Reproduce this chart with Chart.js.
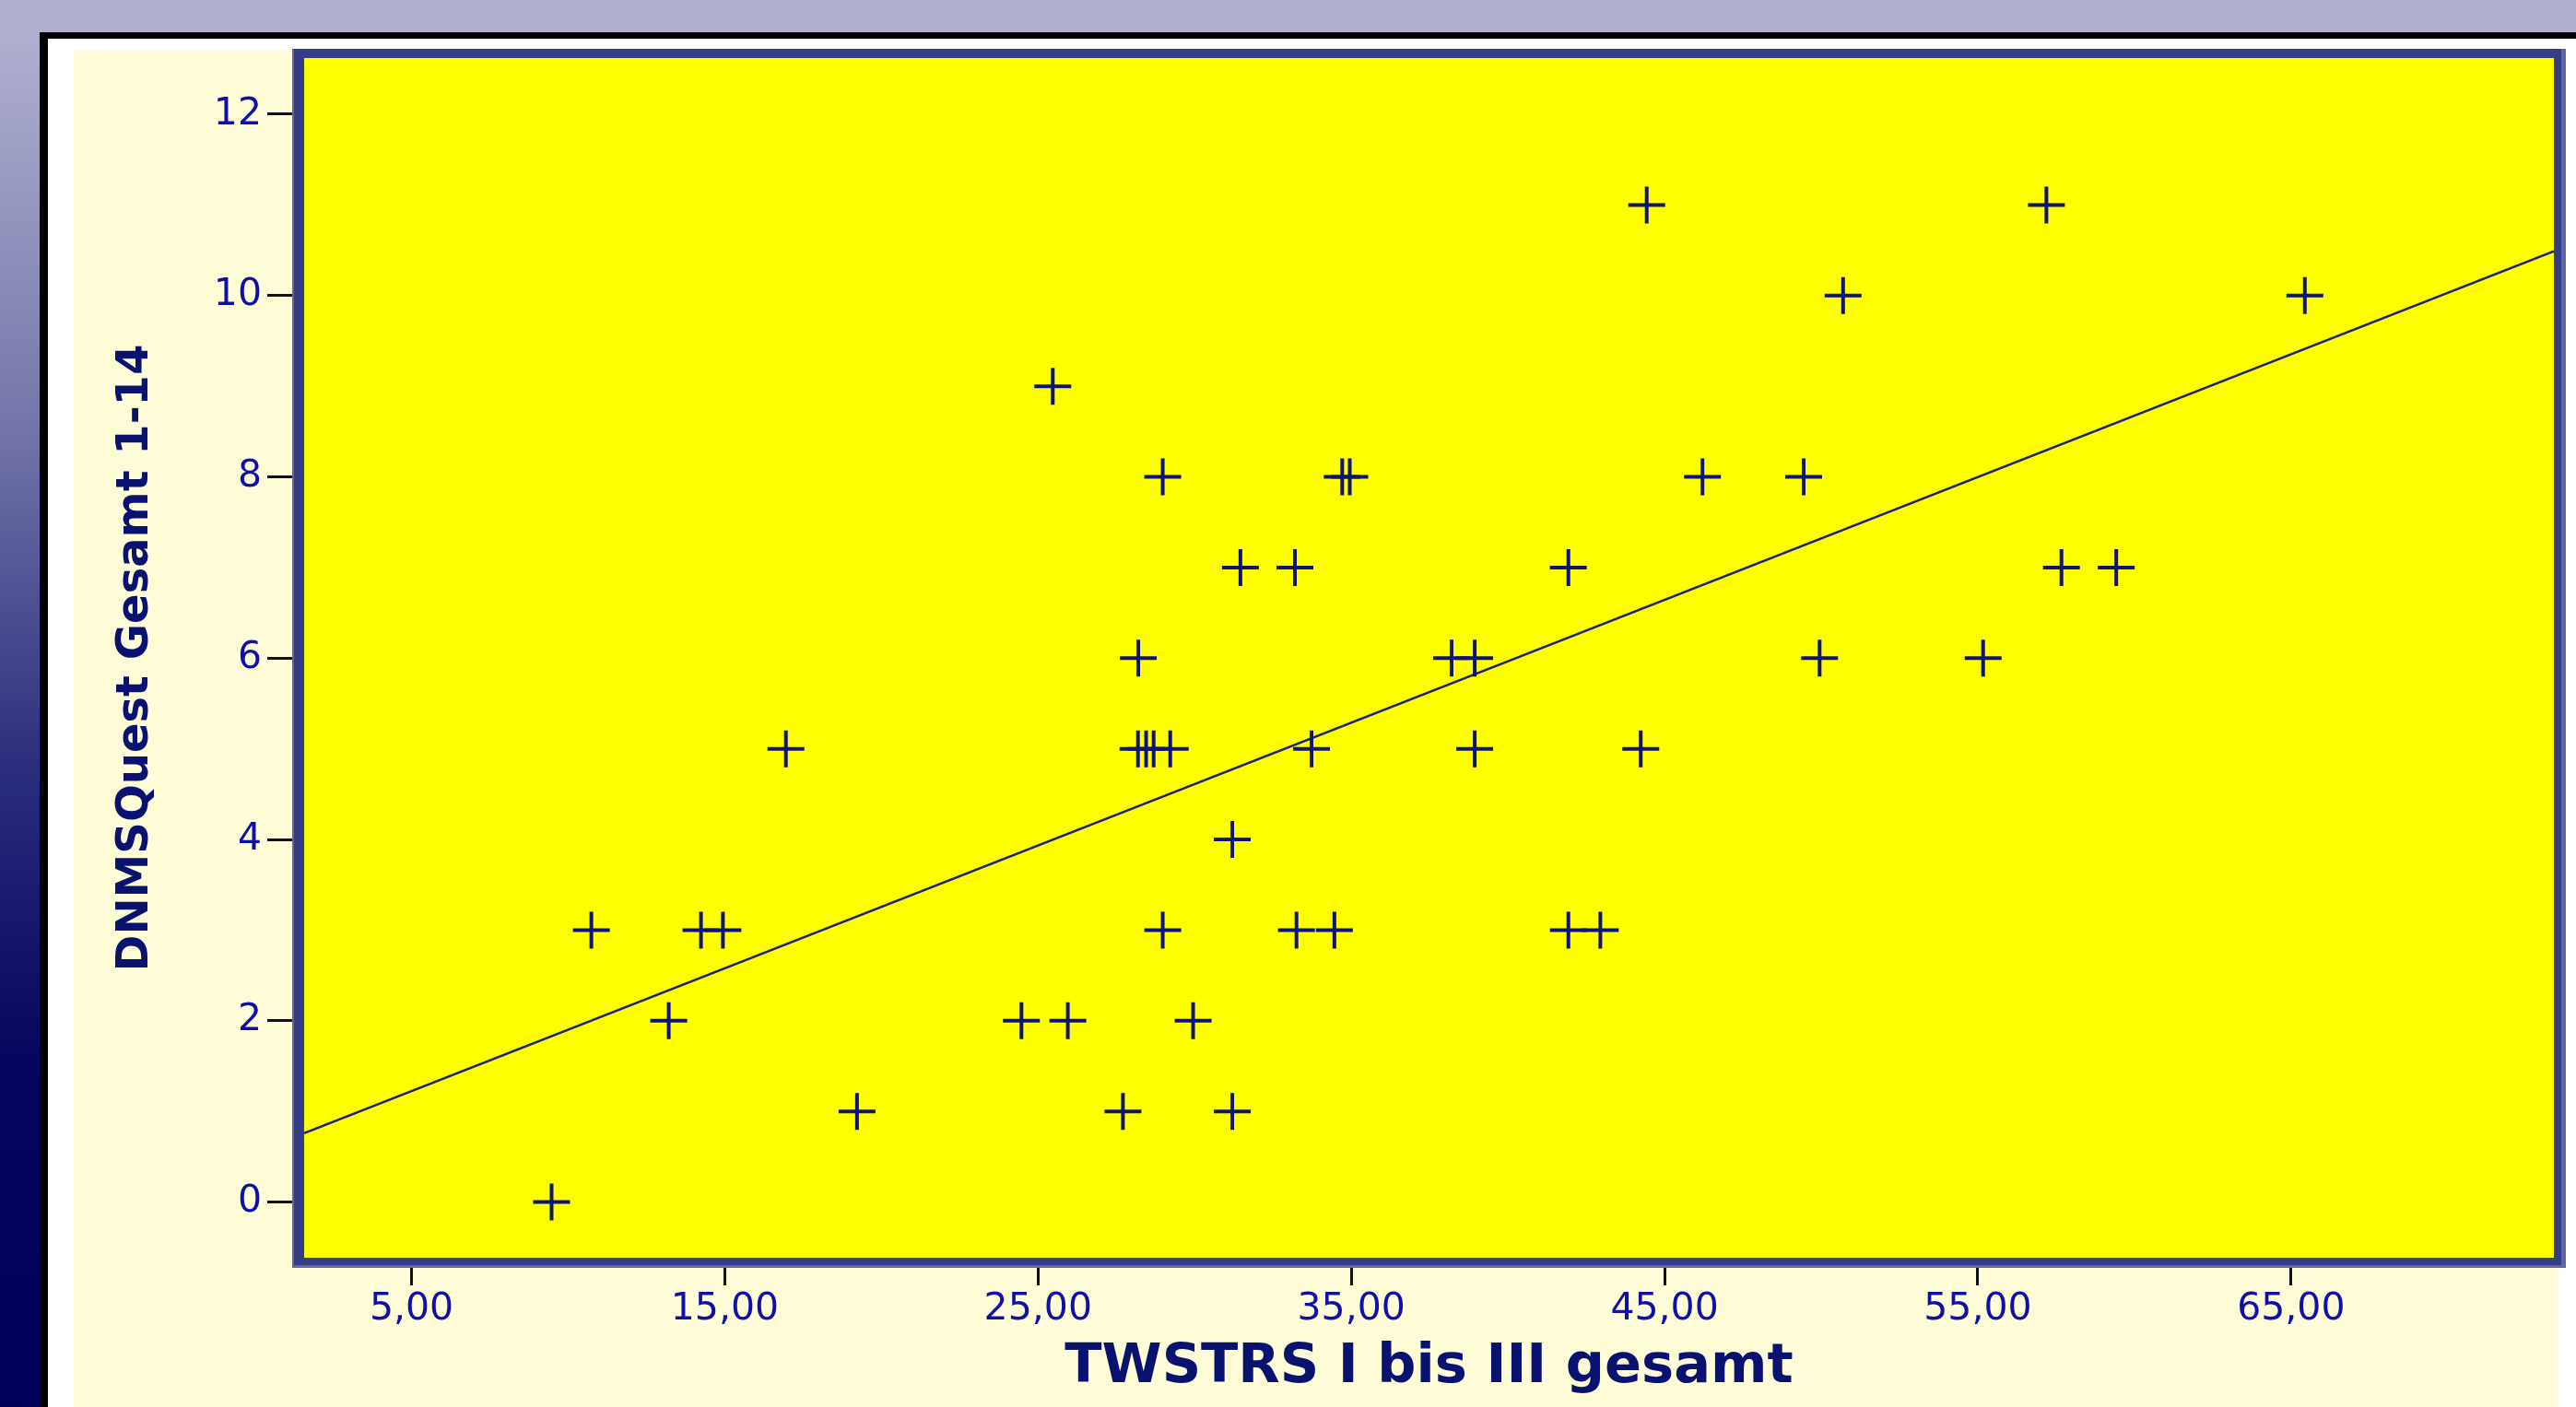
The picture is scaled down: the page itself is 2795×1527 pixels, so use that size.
<!DOCTYPE html>
<html>
<head>
<meta charset="utf-8">
<script src="https://cdn.jsdelivr.net/npm/chart.js@4/dist/chart.umd.min.js"></script>
<style>
  html, body { margin: 0; padding: 0; background: #ffffff; }
  #wrap { width: 2795px; height: 1527px; position: relative; }
</style>
</head>
<body>
<div id="wrap"><canvas id="c" width="2795" height="1527"></canvas></div>
<script>
// ---- data ----
const twstrs = [
  9.47,
  19.22, 27.71, 31.20,
  13.21, 24.47, 25.95, 29.95,
  10.74, 14.24, 14.94, 28.98, 33.25, 34.46, 41.93, 42.95,
  31.20,
  16.95, 28.19, 28.45, 28.69, 29.22, 33.73, 38.94, 44.24,
  28.20, 38.20, 38.94, 49.95, 55.17,
  31.46, 33.20, 41.93, 57.67, 59.42,
  28.98, 34.71, 34.95, 46.21, 49.44,
  25.47,
  50.70, 65.44,
  44.43, 57.19
];
const dnmsquest = [
  0,
  1, 1, 1,
  2, 2, 2, 2,
  3, 3, 3, 3, 3, 3, 3, 3,
  4,
  5, 5, 5, 5, 5, 5, 5, 5,
  6, 6, 6, 6, 6,
  7, 7, 7, 7, 7,
  8, 8, 8, 8, 8,
  9,
  10, 10,
  11, 11
];
// fit line end points (read at the plot edges)
const fitX = [1.571, 73.39];
const fitY = [0.76, 10.49];

const xTickValues = [5, 15, 25, 35, 45, 55, 65];
const xTickLabels = ['5,00', '15,00', '25,00', '35,00', '45,00', '55,00', '65,00'];
const yTickValues = [0, 2, 4, 6, 8, 10, 12];
const yTickLabels = ['0', '2', '4', '6', '8', '10', '12'];
const xRange = [1.571, 73.39];
const yRange = [-0.614, 12.62];

const xTitle = 'TWSTRS I bis III gesamt';
const yTitle = 'DNMSQuest Gesamt 1-14';

// ---- build chart ----
const points = twstrs.map((x, i) => ({ x: x, y: dnmsquest[i] }));
const fitPoints = fitX.map((x, i) => ({ x: x, y: fitY[i] }));

const backdrop = {
  id: 'backdrop',
  beforeDraw(chart) {
    const ctx = chart.ctx;
    const W = chart.width, H = chart.height;
    const ca = chart.chartArea;
    ctx.save();
    // outer slide background gradient
    const g = ctx.createLinearGradient(0, 0, 0, H);
    g.addColorStop(0, '#b4b5d3');
    g.addColorStop(0.30, '#7476aa');
    g.addColorStop(0.55, '#2a2c7c');
    g.addColorStop(0.75, '#06065e');
    g.addColorStop(1, '#00005a');
    ctx.fillStyle = g;
    ctx.fillRect(0, 0, W, H);
    ctx.fillStyle = '#adafcd';
    ctx.fillRect(0, 0, W, 35);
    // black frame
    ctx.fillStyle = '#000000';
    ctx.fillRect(43, 35, W - 43, H - 35);
    // white inner
    ctx.fillStyle = '#ffffff';
    ctx.fillRect(52, 42, W - 52, H - 42);
    // cream panel
    ctx.fillStyle = '#fffdd8';
    ctx.fillRect(80, 55, 2776 - 80, H - 55);
    // yellow plot area
    ctx.fillStyle = '#ffff00';
    ctx.fillRect(ca.left, ca.top, ca.right - ca.left, ca.bottom - ca.top);
    ctx.restore();
  },
  afterDraw(chart) {
    const ctx = chart.ctx;
    const ca = chart.chartArea;
    ctx.save();
    // light outer edge
    ctx.fillStyle = '#6266a4';
    ctx.beginPath();
    ctx.rect(ca.left - 13, ca.top - 10, (ca.right + 13) - (ca.left - 13), (ca.bottom + 11) - (ca.top - 10));
    ctx.rect(ca.left, ca.top, ca.right - ca.left, ca.bottom - ca.top);
    ctx.fill('evenodd');
    // dark frame
    ctx.fillStyle = '#353d86';
    ctx.beginPath();
    ctx.rect(ca.left - 11, ca.top - 10, (ca.right + 8) - (ca.left - 11), (ca.bottom + 8) - (ca.top - 10));
    ctx.rect(ca.left, ca.top, ca.right - ca.left, ca.bottom - ca.top);
    ctx.fill('evenodd');
    ctx.restore();
  }
};

new Chart(document.getElementById('c'), {
  type: 'scatter',
  data: {
    datasets: [
      {
        type: 'line',
        data: fitPoints,
        borderColor: '#1c2272',
        borderWidth: 2.5,
        pointRadius: 0,
        fill: false,
        tension: 0,
        order: 2
      },
      {
        data: points,
        pointStyle: 'cross',
        pointRadius: 20,
        pointHoverRadius: 20,
        borderColor: '#0c1476',
        backgroundColor: '#0c1476',
        pointBorderWidth: 4,
        order: 1
      }
    ]
  },
  options: {
    responsive: false,
    animation: false,
    devicePixelRatio: 1,
    layout: { padding: { left: 0, top: 63, right: 23, bottom: 0 } },
    plugins: { legend: { display: false }, tooltip: { enabled: false } },
    scales: {
      x: {
        type: 'linear',
        min: xRange[0],
        max: xRange[1],
        afterBuildTicks(scale) { scale.ticks = xTickValues.map(v => ({ value: v })); },
        afterFit(scale) { scale.height = 1527 - 1365; },
        border: { display: false },
        grid: { drawOnChartArea: false, drawTicks: true, tickLength: 30, tickColor: '#111111', tickWidth: 3 },
        ticks: {
          autoSkip: false,
          maxRotation: 0,
          padding: 2,
          color: '#1010a8',
          font: { family: 'DejaVu Sans', size: 41 },
          callback(value) { const i = xTickValues.indexOf(value); return i >= 0 ? xTickLabels[i] : ''; }
        },
        title: {
          display: true,
          text: xTitle,
          color: '#0a1270',
          font: { family: 'DejaVu Sans', size: 59, weight: 'bold' },
          padding: { top: 0, bottom: 7 }
        }
      },
      y: {
        type: 'linear',
        min: yRange[0],
        max: yRange[1],
        afterBuildTicks(scale) { scale.ticks = yTickValues.map(v => ({ value: v })); },
        afterFit(scale) { scale.width = 330; },
        border: { display: false },
        grid: { drawOnChartArea: false, drawTicks: true, tickLength: 40, tickColor: '#111111', tickWidth: 3 },
        ticks: {
          autoSkip: false,
          padding: 6,
          color: '#1010a8',
          font: { family: 'DejaVu Sans', size: 41 },
          callback(value) { const i = yTickValues.indexOf(value); return i >= 0 ? yTickLabels[i] : ''; }
        },
        title: {
          display: true,
          text: yTitle,
          color: '#0a1270',
          font: { family: 'DejaVu Sans', size: 48, weight: 'bold' },
          padding: { top: 119, bottom: 0 }
        }
      }
    }
  },
  plugins: [backdrop]
});
</script>
</body>
</html>
